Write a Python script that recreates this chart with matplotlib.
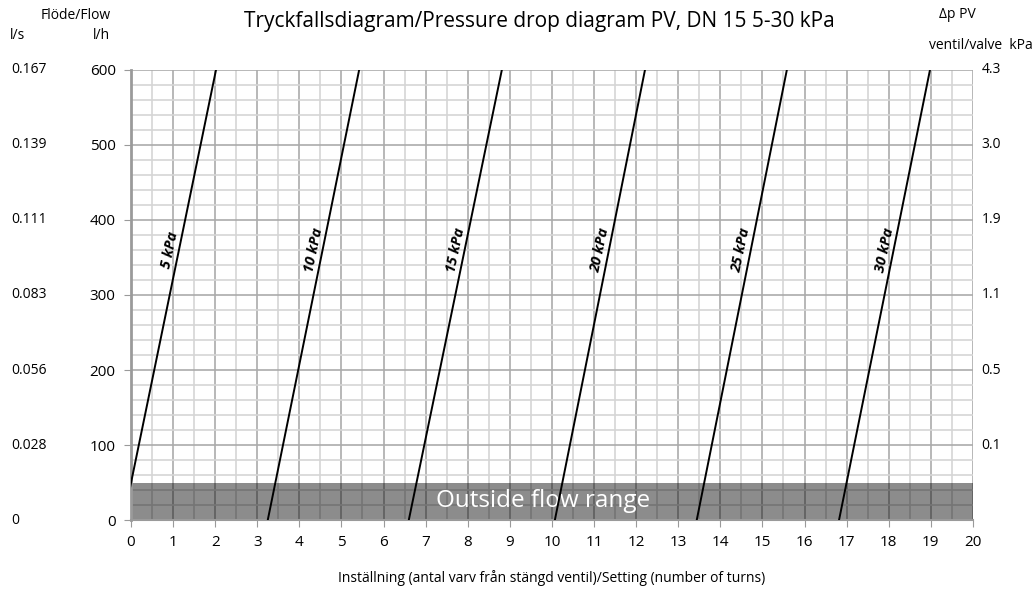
import matplotlib.pyplot as plt
import numpy as np

plt.rcParams['font.family'] = ['Open Sans', 'DejaVu Sans']

# data
pressure_kpa = [5, 10, 15, 20, 25, 30]
turns_at_0 = [-0.18, 3.25, 6.60, 10.07, 13.44, 16.82]     # setting where flow = 0 l/h
turns_at_600 = [2.02, 5.42, 8.81, 12.21, 15.58, 18.98]    # setting where flow = 600 l/h
flow_lh = [0, 100, 200, 300, 400, 500, 600]
flow_ls = ["0", "0.028", "0.056", "0.083", "0.111", "0.139", "0.167"]
dp_valve = ["", "0.1", "0.5", "1.1", "1.9", "3.0", "4.3"]
outside_limit = 50

fig = plt.figure(figsize=(10.36, 5.90), dpi=100)
ax = fig.add_axes([0.1264, 0.1186, 0.8127, 0.7628])

ax.set_xlim(0, 20)
ax.set_ylim(0, 600)

# grid
ax.set_xticks(np.arange(0, 21, 1))
ax.set_xticks(np.arange(0, 20.5, 0.5), minor=True)
ax.set_yticks(flow_lh)
ax.set_yticks(np.arange(0, 601, 20), minor=True)
ax.grid(which='minor', color='#d5d5d5', linewidth=1.2, zorder=0)
ax.grid(which='major', color='#ababab', linewidth=1.2, zorder=0)
ax.set_axisbelow(True)

# outside flow range band
ax.axhspan(0, outside_limit, color='black', alpha=0.45, lw=0, zorder=2)
ax.text(9.8, 25, "Outside flow range", color='white', fontsize=17.5,
        ha='center', va='center', zorder=3)

# pressure lines
for p, x0, x1 in zip(pressure_kpa, turns_at_0, turns_at_600):
    ax.plot([x0, x1], [0, 600], color='black', lw=1.4, zorder=4)
    xm = x0 + (x1 - x0) * 360 / 600
    ax.text(xm - 0.22, 360, f"{p} kPa", fontsize=10.5, fontweight='bold',
            fontstyle='italic', rotation=78, ha='center', va='center', zorder=5)

for s in ['top', 'right']:
    ax.spines[s].set_visible(False)
ax.spines['left'].set_color('#9a9a9a')
ax.spines['left'].set_linewidth(2)
ax.spines['bottom'].set_color('#9a9a9a')
ax.spines['bottom'].set_linewidth(1.5)

ax.tick_params(which='minor', length=0)
ax.tick_params(axis='both', which='major', color='#9a9a9a', length=5,
               labelsize=11, pad=6)
ax.set_yticklabels([str(v) for v in flow_lh])
ax.set_xticklabels([str(v) for v in range(21)])

# extra l/s axis on the far left
for v, lab in zip(flow_lh, flow_ls):
    ax.text(-2.85, v, lab, fontsize=10, ha='left', va='center', clip_on=False)

# right side: pressure drop over valve
for v, lab in zip(flow_lh, dp_valve):
    ax.text(20.2, v, lab, fontsize=10, ha='left', va='center', clip_on=False)

ax.set_xlabel("Inställning (antal varv från stängd ventil)/Setting (number of turns)",
              fontsize=10, labelpad=14)

fig.text(0.521, 0.963, "Tryckfallsdiagram/Pressure drop diagram PV, DN 15 5-30 kPa",
         fontsize=15, ha='center', va='center')
fig.text(0.073, 0.973, "Flöde/Flow", fontsize=10, ha='center', va='center')
fig.text(0.017, 0.940, "l/s", fontsize=10, ha='center', va='center')
fig.text(0.098, 0.940, "l/h", fontsize=10, ha='center', va='center')
fig.text(0.924, 0.975, "Δp PV", fontsize=10, ha='center', va='center')
fig.text(0.997, 0.923, "ventil/valve  kPa", fontsize=10, ha='right', va='center')

fig.savefig("out.png", dpi=100)
